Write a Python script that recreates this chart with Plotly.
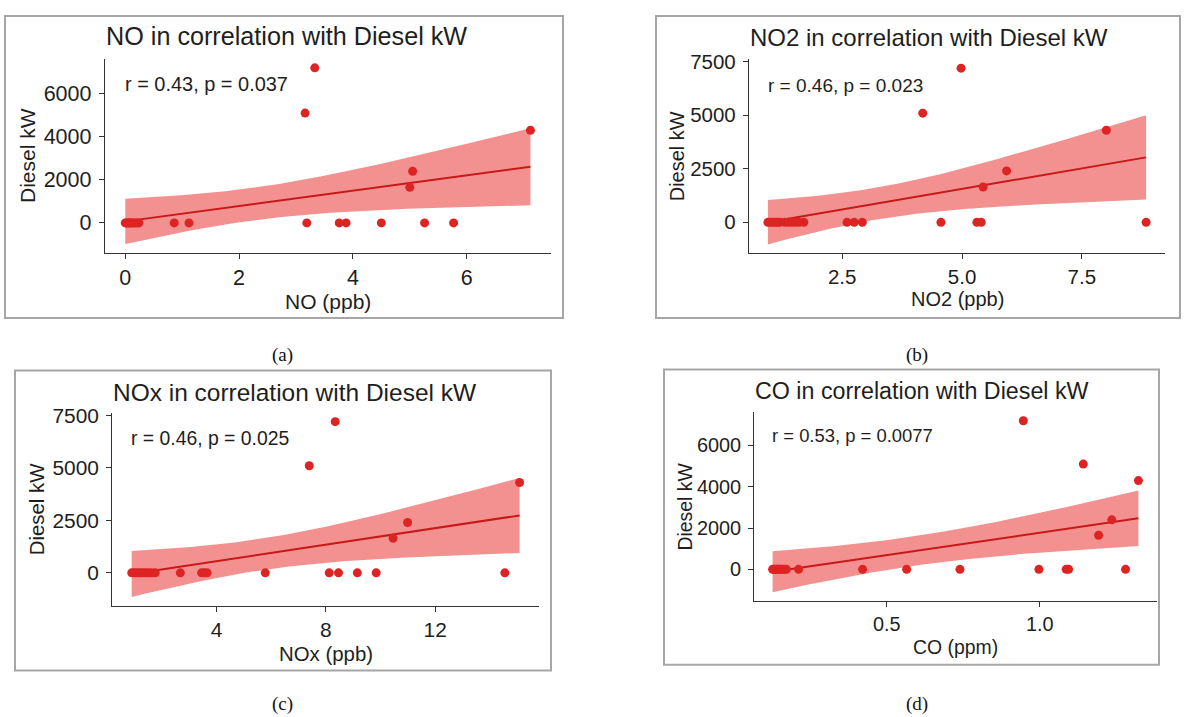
import numpy as np
import plotly.graph_objects as go

W, H = 1187, 717

# ---- measurements (24 paired observations per pollutant) ----
no_ppb = [0.00, 0.02, 0.04, 0.06, 0.08, 0.10, 0.12, 0.15, 0.18, 0.21, 0.24,
          0.86, 1.12, 3.19, 3.76, 3.88, 4.50, 5.26, 5.77,
          3.16, 3.33, 5.00, 5.05, 7.12]
no_diesel = [0, 0, 0, 0, 0, 0, 0, 0, 0, 0, 0,
             0, 0, 0, 0, 0, 0, 0, 0,
             5100, 7200, 1650, 2400, 4300]

no2_ppb = [0.95, 1.00, 1.05, 1.10, 1.15, 1.20, 1.30, 1.38, 1.45, 1.52, 1.60, 1.70,
           2.60, 2.75, 2.92, 4.56, 5.31, 5.40, 8.84,
           4.18, 4.98, 5.44, 5.93, 8.01]
no2_diesel = [0, 0, 0, 0, 0, 0, 0, 0, 0, 0, 0, 0,
              0, 0, 0, 0, 0, 0, 0,
              5100, 7200, 1650, 2400, 4300]

nox_ppb = [0.89, 1.00, 1.10, 1.20, 1.30, 1.40, 1.50, 1.62, 1.75,
           2.67, 3.45, 3.55, 3.65, 5.78, 8.12, 8.46, 9.15, 9.84, 14.55,
           7.39, 8.34, 10.46, 10.99, 15.09]
nox_diesel = [0, 0, 0, 0, 0, 0, 0, 0, 0,
              0, 0, 0, 0, 0, 0, 0, 0, 0, 0,
              5100, 7200, 1650, 2400, 4300]

co_ppm = [0.127, 0.131, 0.135, 0.139, 0.143, 0.147, 0.151, 0.155, 0.160, 0.166, 0.172,
          0.212, 0.421, 0.565, 0.739, 0.997, 1.086, 1.094, 1.280,
          1.142, 0.946, 1.192, 1.235, 1.322]
co_diesel = [0, 0, 0, 0, 0, 0, 0, 0, 0, 0, 0,
             0, 0, 0, 0, 0, 0, 0, 0,
             5100, 7200, 1650, 2400, 4300]

titles = ["NO in correlation with Diesel kW", "NO2 in correlation with Diesel kW",
          "NOx in correlation with Diesel kW", "CO in correlation with Diesel kW"]
x_titles = ["NO (ppb)", "NO2 (ppb)", "NOx (ppb)", "CO (ppm)"]
stat_labels = ["r = 0.43, p = 0.037", "r = 0.46, p = 0.023",
               "r = 0.46, p = 0.025", "r = 0.53, p = 0.0077"]
captions = ["(a)", "(b)", "(c)", "(d)"]
x_tickvals = [[0, 2, 4, 6], [2.5, 5.0, 7.5], [4, 8, 12], [0.5, 1.0]]
x_ticktext = [["0", "2", "4", "6"], ["2.5", "5.0", "7.5"], ["4", "8", "12"], ["0.5", "1.0"]]
y_tickvals = [[0, 2000, 4000, 6000], [0, 2500, 5000, 7500],
              [0, 2500, 5000, 7500], [0, 2000, 4000, 6000]]

series = [(no_ppb, no_diesel), (no2_ppb, no2_diesel),
          (nox_ppb, nox_diesel), (co_ppm, co_diesel)]

# ---- page geometry in pixels ----
plot_box = [  # x0, x1, y_top, y_bottom of each plotting area
    (105, 550.7, 50.7, 247.0),
    (749, 1165, 51.0, 247.3),
    (112.3, 539, 409.0, 604.3),
    (754.3, 1156.7, 408.3, 599.3),
]
frame_box = [(5, 563, 7, 313), (656, 1180, 7, 313), (15, 551, 366, 670), (664, 1159, 365, 664)]
title_y = [27, 29, 388, 387]
stat_pos = [(123, 76), (766, 77), (129, 434), (770, 432)]
xtitle_y = [296, 294, 653, 646]
ytitle_x = [28, 677, 37, 685]
caption_pos = [(282, 350), (917, 350), (282, 704), (917, 704)]
text_scale = [1.05, 1.0, 1.02, 0.97]  # each sub-figure is printed at a slightly different size

POINT = "rgb(222,35,35)"
LINE = "rgb(200,25,25)"
BAND = "rgba(232,45,45,0.52)"
INK = "#1e1e1e"
AXIS = "#333333"
SANS = "Liberation Sans, Arial, sans-serif"
SERIF = "Liberation Serif, Times New Roman, serif"
T_975_DF22 = 2.0739  # two-sided 95% t quantile for n - 2 = 22


def px_x(v):
    return v / W


def px_y(v):
    return 1 - v / H


def lm_band(x, y, n_grid=80):
    x = np.asarray(x, float)
    y = np.asarray(y, float)
    n = len(x)
    slope, icpt = np.polyfit(x, y, 1)
    resid = y - (icpt + slope * x)
    s = np.sqrt(np.sum(resid ** 2) / (n - 2))
    sxx = np.sum((x - x.mean()) ** 2)
    g = np.linspace(x.min(), x.max(), n_grid)
    fit = icpt + slope * g
    se = s * np.sqrt(1 / n + (g - x.mean()) ** 2 / sxx)
    return g, fit, fit - T_975_DF22 * se, fit + T_975_DF22 * se


fig = go.Figure()
annotations = []
shapes = []
layout_axes = {}

for i, (xv, yv) in enumerate(series):
    k = "" if i == 0 else str(i + 1)
    xa, ya = "x" + k, "y" + k
    sc = text_scale[i]
    g, fit, lo, hi = lm_band(xv, yv)

    fig.add_trace(go.Scatter(
        x=np.concatenate([g, g[::-1]]), y=np.concatenate([hi, lo[::-1]]),
        fill="toself", fillcolor=BAND, line=dict(width=0), mode="lines",
        hoverinfo="skip", showlegend=False, xaxis=xa, yaxis=ya))
    fig.add_trace(go.Scatter(
        x=g, y=fit, mode="lines", line=dict(color=LINE, width=2),
        showlegend=False, xaxis=xa, yaxis=ya))
    fig.add_trace(go.Scatter(
        x=xv, y=yv, mode="markers",
        marker=dict(color=POINT, size=9, line=dict(width=0)),
        showlegend=False, xaxis=xa, yaxis=ya))

    # ggplot-style 5% expansion of the data + band extent
    xmin, xmax = min(xv), max(xv)
    ymin, ymax = min(min(yv), lo.min()), max(max(yv), hi.max())
    dx, dy = 0.05 * (xmax - xmin), 0.05 * (ymax - ymin)

    x0, x1, yt, yb = plot_box[i]
    common = dict(showline=True, linecolor=AXIS, linewidth=1.3, ticks="outside",
                  ticklen=5, tickwidth=1.3, tickcolor=AXIS, showgrid=False,
                  zeroline=False, tickfont=dict(family=SANS, size=20.5 * sc, color=INK))
    layout_axes["xaxis" + k] = dict(
        domain=[px_x(x0), px_x(x1)], anchor=ya, range=[xmin - dx, xmax + dx],
        tickvals=x_tickvals[i], ticktext=x_ticktext[i], **common)
    layout_axes["yaxis" + k] = dict(
        domain=[px_y(yb), px_y(yt)], anchor=xa, range=[ymin - dy, ymax + dy],
        tickvals=y_tickvals[i], ticktext=[str(v) for v in y_tickvals[i]],
        ticklabelstandoff=3, **common)

    fx0, fx1, fy0, fy1 = frame_box[i]
    shapes.append(dict(type="rect", xref="paper", yref="paper",
                       x0=px_x(fx0), x1=px_x(fx1), y0=px_y(fy1), y1=px_y(fy0),
                       line=dict(color="#A6A6A6", width=2), fillcolor="rgba(0,0,0,0)",
                       layer="below"))

    annotations.append(dict(text=titles[i], x=px_x(x0 - 1), y=px_y(title_y[i]),
                            xref="paper", yref="paper", xanchor="left", yanchor="middle",
                            showarrow=False, font=dict(family=SANS, size=24 * sc, color=INK)))
    sx, sy = stat_pos[i]
    annotations.append(dict(text=stat_labels[i], x=px_x(sx), y=px_y(sy),
                            xref="paper", yref="paper", xanchor="left", yanchor="middle",
                            showarrow=False, font=dict(family=SANS, size=19 * sc, color=INK)))
    annotations.append(dict(text=x_titles[i], x=px_x((x0 + x1) / 2), y=px_y(xtitle_y[i]),
                            xref="paper", yref="paper", xanchor="center", yanchor="middle",
                            showarrow=False, font=dict(family=SANS, size=20 * sc, color=INK)))
    annotations.append(dict(text="Diesel kW", x=px_x(ytitle_x[i]), y=px_y((yt + yb) / 2),
                            xref="paper", yref="paper", xanchor="center", yanchor="middle",
                            textangle=-90, showarrow=False,
                            font=dict(family=SANS, size=20 * sc, color=INK)))
    cx, cy = caption_pos[i]
    annotations.append(dict(text=captions[i], x=px_x(cx), y=px_y(cy),
                            xref="paper", yref="paper", xanchor="center", yanchor="middle",
                            showarrow=False, font=dict(family=SERIF, size=19, color="#111111")))

fig.update_layout(
    width=W, height=H, margin=dict(l=0, r=0, t=0, b=0),
    paper_bgcolor="white", plot_bgcolor="rgba(0,0,0,0)",
    showlegend=False, annotations=annotations, shapes=shapes, **layout_axes)

fig.write_html("out.html", config={"displayModeBar": False})
